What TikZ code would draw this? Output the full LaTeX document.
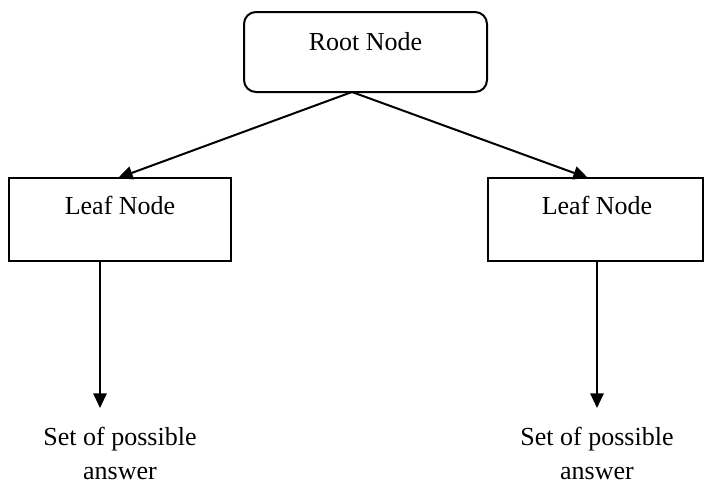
\documentclass[tikz,border=0pt]{standalone}
\usepackage{fontspec}
\setmainfont{Liberation Serif}
\usetikzlibrary{arrows.meta}
\begin{document}
\begin{tikzpicture}[x=0.75pt,y=-0.75pt,
  boxline/.style={draw=black,line width=1.5pt},
  label/.style={font=\fontsize{19.5}{25.5}\selectfont,inner sep=0pt,anchor=base,align=center},
  conn/.style={line width=1.5pt,-{Triangle[length=11pt,width=10pt]}}]
\useasboundingbox (0,0) rectangle (704,483);
% root
\node[boxline,rounded corners=9pt,minimum width=182.25pt,minimum height=60pt,inner sep=0pt] (root) at (365.5,52) {};
\node[label] (roottext) at (365.5,50) {Root Node};
\coordinate (rootout) at (352,92);
% leaves
\node[boxline,minimum width=166.5pt,minimum height=62.25pt,inner sep=0pt] (leafL) at (120,219.5) {};
\node[label] (leafLtext) at (120,214) {Leaf Node};
\node[boxline,minimum width=161.25pt,minimum height=62.25pt,inner sep=0pt] (leafR) at (595,219.5) {};
\node[label] (leafRtext) at (597,214) {Leaf Node};
% answers
\node[label] (ansL) at (120,479) {Set of possible\\answer};
\node[label] (ansR) at (597,479) {Set of possible\\answer};
\coordinate (tipL) at (118,178);
\coordinate (tipR) at (588,178);
\coordinate (outL) at (100,261);
\coordinate (outR) at (597,261);
\coordinate (endL) at (100,408);
\coordinate (endR) at (597,408);
\draw[conn] (rootout) -- (tipL);
\draw[conn] (rootout) -- (tipR);
\draw[conn] (outL) -- (endL);
\draw[conn] (outR) -- (endR);
\end{tikzpicture}
\end{document}
